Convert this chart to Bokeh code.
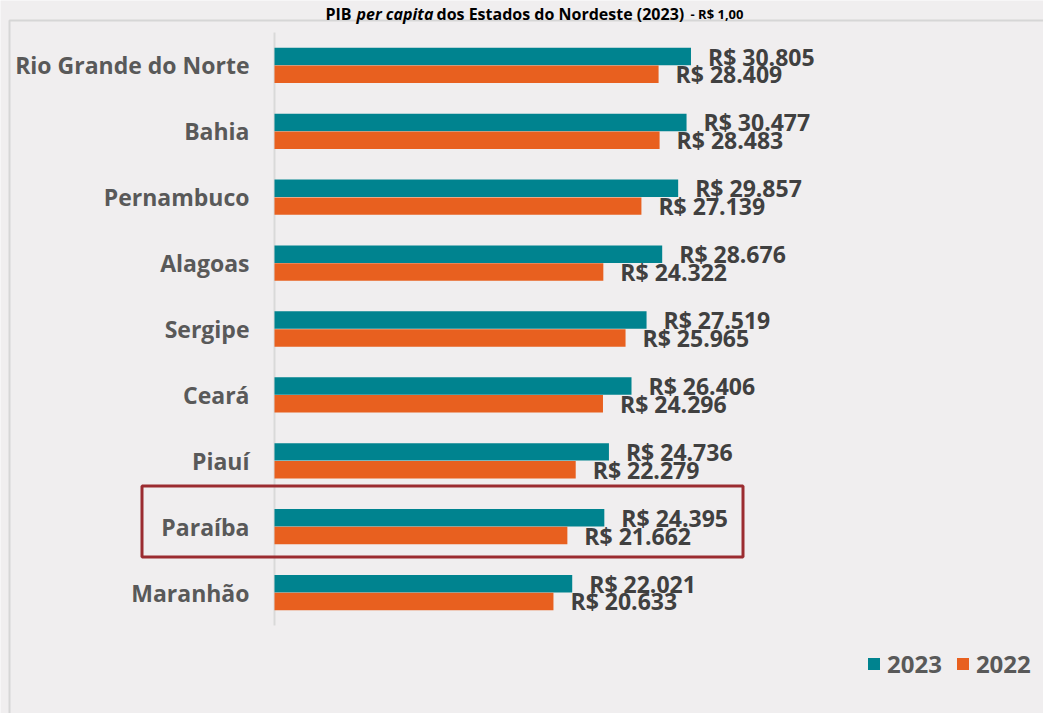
from bokeh.plotting import figure
from bokeh.models import (Range1d, Legend, LegendItem, BoxAnnotation, Label,
                          ColumnDataSource)
from bokeh.core.properties import value
from bokeh.embed import file_html
from bokeh.resources import INLINE

# ---- data ----
states = ["Rio Grande do Norte", "Bahia", "Pernambuco", "Alagoas", "Sergipe",
          "Ceará", "Piauí", "Paraíba", "Maranhão"]
pib_2023 = [30805, 30477, 29857, 28676, 27519, 26406, 24736, 24395, 22021]
pib_2022 = [28409, 28483, 27139, 24322, 25965, 24296, 22279, 21662, 20633]
series_names = ["2023", "2022"]
highlight_state = "Paraíba"
title_parts = ["PIB ", "per capita", " dos Estados do Nordeste (2023)", " - R$ 1,00"]

# ---- styling / layout ----
BG = "#F0EEEF"
TEAL = "#00838F"
ORANGE = "#E8601F"
FONT = "Open Sans"

W, H = 1043, 713
X0 = 274            # pixel of value 0
XPU = 0.01352       # pixels per R$
AX_TOP, AX_BOT = 32, 625
n = len(states)
YPU = (AX_BOT - AX_TOP) / n   # pixels per category

def px_to_x(px):
    return (px - X0) / XPU

def py_to_y(py):
    return (n - 0.5) - (py - AX_TOP) / YPU

def fmt(v):
    return "R$ " + f"{v:,}".replace(",", ".")

pos = [n - 1 - i for i in range(n)]  # top to bottom
off, bh = 0.135, 0.265

src = ColumnDataSource(dict(
    state=states,
    y=pos,
    y23=[p_ + off for p_ in pos],
    y22=[p_ - off for p_ in pos],
    v23=pib_2023, v22=pib_2022,
    l23=[fmt(v) for v in pib_2023],
    l22=[fmt(v) for v in pib_2022],
    zero=[0] * n,
))

p = figure(width=W, height=H, output_backend="svg", toolbar_location=None,
           x_range=Range1d(px_to_x(0), px_to_x(W)),
           y_range=Range1d(py_to_y(H), py_to_y(0)),
           min_border=0, background_fill_color=BG, border_fill_color=BG,
           outline_line_color=None)
p.xaxis.visible = False
p.yaxis.visible = False
p.grid.visible = False

# outer chart-area border
p.add_layout(BoxAnnotation(left=px_to_x(9), right=px_to_x(W + 50),
                           top=py_to_y(20), bottom=py_to_y(H + 50),
                           fill_alpha=0, line_color="#D6D6D6", line_alpha=1,
                           line_width=2, level="underlay"))

# category axis line
p.segment(x0=0, x1=0, y0=-0.5, y1=n - 0.5, line_color="#D9D9D9", line_width=2)

r23 = p.hbar(y="y23", right="v23", left=0, height=bh, source=src,
             fill_color=TEAL, line_color=None)
r22 = p.hbar(y="y22", right="v22", left=0, height=bh, source=src,
             fill_color=ORANGE, line_color=None)

for ycol, lcol, vcol in (("y22", "l22", "v22"), ("y23", "l23", "v23")):
    p.text(x=vcol, y=ycol, text=lcol, source=src, x_offset=17, y_offset=0,
           text_baseline="middle", text_align="left",
           text_font=value(FONT), text_font_style="bold",
           text_font_size="23px", text_color="#404040")

# category labels
p.text(x="zero", y="y", text="state", source=src, x_offset=-25,
       text_baseline="middle", text_align="right", text_font=value(FONT),
       text_font_style="bold", text_font_size="23px", text_color="#595959")

legend = Legend(items=[LegendItem(label=series_names[0], renderers=[r23]),
                       LegendItem(label=series_names[1], renderers=[r22])],
                orientation="horizontal", location=(866, 33),
                glyph_width=15, glyph_height=15, label_standoff=6, spacing=13,
                padding=0, margin=0, border_line_color=None,
                background_fill_alpha=0, label_text_font=FONT,
                label_text_font_style="bold", label_text_font_size="24px",
                label_text_color="#595959")
p.add_layout(legend, "center")

# highlight box around Paraíba
hi = pos[states.index(highlight_state)]
p.add_layout(BoxAnnotation(left=px_to_x(141.5), right=px_to_x(742.5),
                           top=py_to_y(485.5), bottom=py_to_y(556.5),
                           fill_alpha=0, line_color="#9B2C30", line_alpha=1,
                           line_width=3))

# title
xs = [325, 356, 436, 690]
styles = ["bold", "bold italic", "bold", "bold"]
sizes = ["16px", "16px", "16px", "13px"]
for t, x, st, sz in zip(title_parts, xs, styles, sizes):
    p.add_layout(Label(x=px_to_x(x), y=py_to_y(13), text=t, text_font=FONT,
                       text_font_style=st, text_font_size=sz, text_color="#000000",
                       text_baseline="alphabetic"))

open("out.html", "w").write(file_html(p, INLINE))
